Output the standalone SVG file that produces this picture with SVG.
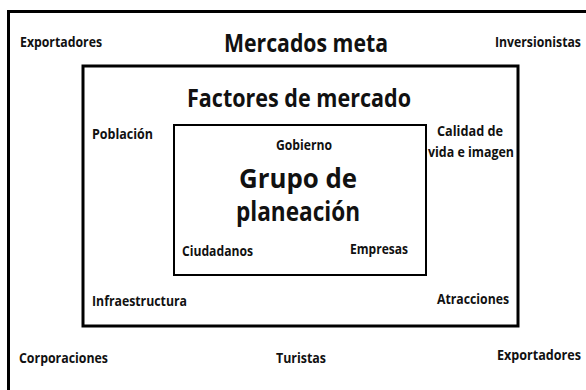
<svg xmlns="http://www.w3.org/2000/svg" width="586" height="390" viewBox="0 0 586 390">
<style>
.box{fill:none;stroke:#000;stroke-width:3}
.inner{fill:none;stroke:#000;stroke-width:2}
text{font-family:"Open Sans","Liberation Sans",sans-serif;font-weight:700;fill:#111}
.s{font-size:14.5px}
.l{font-size:25px}
.g{font-size:26px}
</style>
<rect width="586" height="390" fill="#fff"/>
<g id="mercados-meta">
<path class="box" d="M8.5 400 V11.5 H600"/>
<text class="l" x="306" y="52" text-anchor="middle" textLength="164" lengthAdjust="spacingAndGlyphs">Mercados meta</text>
</g>
<g id="exportadores-1"><text class="s" x="20" y="47" textLength="82" lengthAdjust="spacingAndGlyphs">Exportadores</text></g>
<g id="inversionistas"><text class="s" transform="translate(495,47) scale(0.7,1)" x="0" y="0" textLength="122.8" lengthAdjust="spacingAndGlyphs">Inversionistas</text></g>
<g id="corporaciones"><text class="s" x="19" y="363" textLength="89" lengthAdjust="spacingAndGlyphs">Corporaciones</text></g>
<g id="turistas"><text class="s" x="276" y="363" textLength="50" lengthAdjust="spacingAndGlyphs">Turistas</text></g>
<g id="exportadores-2"><text class="s" transform="translate(497,360) scale(0.7,1)" x="0" y="0" textLength="120" lengthAdjust="spacingAndGlyphs">Exportadores</text></g>
<g id="factores-de-mercado">
<rect class="box" x="83" y="66" width="435" height="260"/>
<text class="l" x="299" y="107" text-anchor="middle" textLength="224" lengthAdjust="spacingAndGlyphs">Factores de mercado</text>
</g>
<g id="poblacion"><text class="s" x="92" y="139" textLength="61" lengthAdjust="spacingAndGlyphs">Población</text></g>
<g id="calidad"><text class="s" x="470" y="136" text-anchor="middle" textLength="66" lengthAdjust="spacingAndGlyphs">Calidad de</text><text class="s" x="471" y="157" text-anchor="middle" textLength="86" lengthAdjust="spacingAndGlyphs">vida e imagen</text></g>
<g id="infraestructura"><text class="s" x="92" y="306" textLength="95" lengthAdjust="spacingAndGlyphs">Infraestructura</text></g>
<g id="atracciones"><text class="s" x="437" y="304" textLength="72" lengthAdjust="spacingAndGlyphs">Atracciones</text></g>
<g id="grupo-de-planeacion">
<rect class="inner" x="174" y="125" width="252" height="150"/>
<text class="g" x="298" y="188" text-anchor="middle" textLength="118" lengthAdjust="spacingAndGlyphs">Grupo de</text>
<text class="g" x="298" y="221" text-anchor="middle" textLength="124" lengthAdjust="spacingAndGlyphs">planeación</text>
</g>
<g id="gobierno"><text class="s" x="304" y="150" text-anchor="middle" textLength="56" lengthAdjust="spacingAndGlyphs">Gobierno</text></g>
<g id="ciudadanos"><text class="s" x="182" y="256" textLength="71" lengthAdjust="spacingAndGlyphs">Ciudadanos</text></g>
<g id="empresas"><text class="s" x="350" y="254" textLength="58" lengthAdjust="spacingAndGlyphs">Empresas</text></g>
<g id="connectors"/>
</svg>
